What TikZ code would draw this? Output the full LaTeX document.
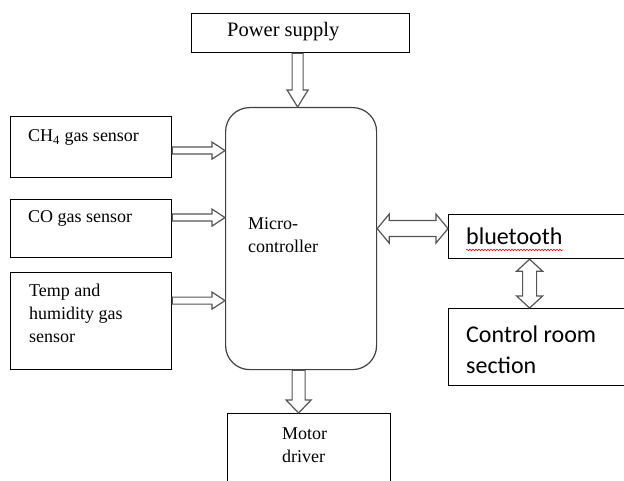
\documentclass[tikz,border=0pt]{standalone}
\usepackage{fontspec}
\setmainfont{Liberation Serif}
\newfontfamily\calibfont{Carlito}
\usetikzlibrary{calc,positioning,decorations.pathmorphing}
\definecolor{arrowgray}{HTML}{555555}
\definecolor{mcgray}{HTML}{404040}
\tikzset{
  bshaft/.store in=\bshaft, bhead/.store in=\bhead, blen/.store in=\blen,
  bshaft=3.5pt, bhead=8.5pt, blen=13pt,
  blockarrow/.style={draw=arrowgray,line width=1.2pt,fill=white,line join=miter,
    to path={($(\tikztostart)!\bshaft!90:(\tikztotarget)$)
      -- ($(\tikztotarget)!\blen!(\tikztostart)!\bshaft!-90:(\tikztostart)$)
      -- ($(\tikztotarget)!\blen!(\tikztostart)!\bhead!-90:(\tikztostart)$)
      -- (\tikztotarget)
      -- ($(\tikztotarget)!\blen!(\tikztostart)!\bhead!90:(\tikztostart)$)
      -- ($(\tikztotarget)!\blen!(\tikztostart)!\bshaft!90:(\tikztostart)$)
      -- ($(\tikztostart)!\bshaft!-90:(\tikztotarget)$) -- cycle}},
  dblarrow/.style={draw=arrowgray,line width=1.2pt,fill=white,line join=miter,
    to path={-- ($(\tikztostart)!\blen!(\tikztotarget)!\bhead!90:(\tikztotarget)$)
      -- ($(\tikztostart)!\blen!(\tikztotarget)!\bshaft!90:(\tikztotarget)$)
      -- ($(\tikztotarget)!\blen!(\tikztostart)!\bshaft!-90:(\tikztostart)$)
      -- ($(\tikztotarget)!\blen!(\tikztostart)!\bhead!-90:(\tikztostart)$)
      -- (\tikztotarget)
      -- ($(\tikztotarget)!\blen!(\tikztostart)!\bhead!90:(\tikztostart)$)
      -- ($(\tikztotarget)!\blen!(\tikztostart)!\bshaft!90:(\tikztostart)$)
      -- ($(\tikztostart)!\blen!(\tikztotarget)!\bshaft!-90:(\tikztotarget)$)
      -- ($(\tikztostart)!\blen!(\tikztotarget)!\bhead!-90:(\tikztotarget)$)
      -- cycle}}
}

\begin{document}
\begin{tikzpicture}[
    x=1pt,y=-1pt,
    box/.style={draw,line width=1.2pt,anchor=north west,inner sep=0pt},
    lbl/.style={inner sep=0pt,anchor=base west,align=left,font=\fontsize{18}{23}\selectfont},
    cal/.style={inner sep=0pt,anchor=base west,align=left,font=\calibfont\fontsize{24}{31}\selectfont}
  ]
  \useasboundingbox (0,0) rectangle (624,481);
  \clip (0,0) rectangle (624,481);

  \node[box,minimum width=218pt,minimum height=39pt] (ps) at (191,13) {};
  \node[box,minimum width=161pt,minimum height=61pt] (ch4) at (10,116) {};
  \node[box,minimum width=161pt,minimum height=58pt] (co) at (10,199) {};
  \node[box,minimum width=161pt,minimum height=97pt] (th) at (10,272) {};
  \node[box,draw=mcgray,rounded corners=24pt,minimum width=151pt,minimum height=262pt] (mc) at (225,107) {};
  \node[box,minimum width=182pt,minimum height=44pt] (bt) at (448,214) {};
  \node[box,minimum width=182pt,minimum height=77pt] (cr) at (448,308) {};
  \node[box,minimum width=163pt,minimum height=80pt] (md) at (227,413) {};

  % multi-line labels sit on their last baseline
  \node[lbl,font=\fontsize{20.5}{23}\selectfont] (pst) at ([shift={(36,24)}]ps.north west) {Power supply};
  \node[lbl] (ch4t) at ([shift={(18,26)}]ch4.north west) {CH\textsubscript{4} gas sensor};
  \node[lbl] (cot) at ([shift={(18,24)}]co.north west) {CO gas sensor};
  \node[lbl] (tht) at ([shift={(19,70)}]th.north west) {Temp and\\humidity gas\\sensor};
  \node[lbl] (mct) at ([shift={(23,146)}]mc.north west) {Micro-\\controller};
  \node[lbl] (mdt) at ([shift={(55,49)}]md.north west) {Motor\\driver};
  \node[cal] (btt) at ([shift={(18,31)}]bt.north west) {bluetooth};
  \node[cal] (crt) at ([shift={(18,65)}]cr.north west) {Control room\\section};
  \draw[red,line width=0.6pt,decorate,decoration={snake,amplitude=0.8pt,segment length=3pt}]
    ([shift={(0,5)}]btt.base west) -- ([shift={(0,5)}]btt.base east);

  \draw[blockarrow,bshaft=5.5pt,bhead=10.5pt,blen=17pt] ([shift={(-3,0)}]ps.south) coordinate (a0) to (a0 |- mc.north);
  \draw[blockarrow] ([shift={(0,3.5)}]ch4.east) coordinate (a1) to (a1 -| mc.west);
  \draw[blockarrow] ([shift={(0,-11)}]co.east) coordinate (a2) to (a2 -| mc.west);
  \draw[blockarrow] ([shift={(0,-20.5)}]th.east) coordinate (a3) to (a3 -| mc.west);
  \draw[blockarrow,bshaft=6.5pt,bhead=12.5pt,blen=13pt] ([shift={(-2.5,0)}]mc.south) coordinate (a4) to (a4 |- md.north);
  \draw[dblarrow,bshaft=8pt,bhead=14.5pt,blen=12pt] ([shift={(0,-8)}]bt.west) coordinate (a5) to (a5 -| mc.east);
  \draw[dblarrow,bshaft=7pt,bhead=13pt,blen=12pt] ([shift={(-10,0)}]bt.south) coordinate (a6) to (a6 |- cr.north);
\end{tikzpicture}
\end{document}
